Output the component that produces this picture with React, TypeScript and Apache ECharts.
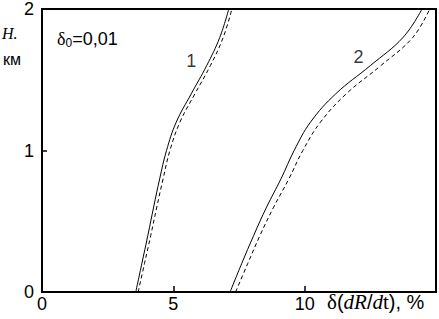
import React, { useEffect, useRef } from "react";
import * as echarts from "echarts";

const heights = [0, 0.2, 0.4, 0.6, 0.8, 1.0, 1.2, 1.4, 1.6, 1.8, 2.0];
const curve1Solid = [3.57, 3.8, 4.03, 4.25, 4.48, 4.74, 5.11, 5.68, 6.27, 6.77, 7.11];
const curve1Dashed = [3.66, 3.9, 4.14, 4.37, 4.61, 4.87, 5.25, 5.82, 6.41, 6.9, 7.23];
const curve2Solid = [7.16, 7.6, 8.06, 8.55, 9.1, 9.6, 10.22, 11.18, 12.5, 13.75, 14.47];
const curve2Dashed = [7.37, 7.83, 8.3, 8.82, 9.4, 9.93, 10.6, 11.58, 12.9, 14.12, 14.76];
const xTicks = [0, 5, 10];
const yTicks = [0, 1, 2];
const curveLabels = [
  { text: "1", x: 5.68, h: 1.63 },
  { text: "2", x: 12.05, h: 1.66 },
];

const FONT = "'Liberation Sans', Arial, sans-serif";
const SERIF = "'Liberation Serif', 'Times New Roman', serif";

export default function App() {
  const ref = useRef<HTMLDivElement>(null);
  useEffect(() => {
    if (!ref.current) return;
    const chart = echarts.init(ref.current, null, { renderer: "svg" });
    const pairs = (xs: number[]) => xs.map((x, i) => [x, heights[i]]);
    const mk = (xs: number[], dashed: boolean) => ({
      type: "line",
      data: pairs(xs),
      smooth: 0.4,
      showSymbol: false,
      symbol: "none",
      lineStyle: { color: "#000", width: 1, type: dashed ? [4, 3] : "solid" },
      silent: true,
    });
    chart.setOption({
      animation: false,
      backgroundColor: "#fff",
      grid: {
        left: 42,
        right: 1,
        top: 7,
        bottom: 27,
        show: true,
        borderColor: "#000",
        borderWidth: 2,
        backgroundColor: "transparent",
      },
      xAxis: {
        type: "value",
        min: 0,
        max: 15,
        interval: 5,
        axisLine: { show: true, lineStyle: { color: "#000", width: 2 } },
        axisTick: { show: true, inside: true, length: 6, lineStyle: { color: "#000", width: 1.5 } },
        splitLine: { show: false },
        axisLabel: {
          color: "#000",
          fontSize: 18,
          fontFamily: FONT,
          margin: 3,
          hideOverlap: false,
          formatter: (v: number) => (xTicks.includes(v) ? String(v) : ""),
        },
      },
      yAxis: {
        type: "value",
        min: 0,
        max: 2,
        interval: 1,
        axisLine: { show: true, lineStyle: { color: "#000", width: 2 } },
        axisTick: { show: true, inside: true, length: 5, lineStyle: { color: "#000", width: 1.5 } },
        splitLine: { show: false },
        axisLabel: {
          color: "#000",
          fontSize: 18,
          fontFamily: FONT,
          margin: 8,
          formatter: (v: number) => (yTicks.includes(v) ? String(v) : ""),
        },
      },
      series: [
        mk(curve1Solid, false),
        mk(curve1Dashed, true),
        mk(curve2Solid, false),
        mk(curve2Dashed, true),
        {
          type: "scatter",
          data: curveLabels.map((c) => [c.x, c.h]),
          symbolSize: 0,
          silent: true,
          label: {
            show: true,
            position: "inside",
            color: "#000",
            fontSize: 18,
            fontFamily: FONT,
            formatter: (p: any) => curveLabels[p.dataIndex].text,
          },
        },
      ],
      graphic: [
        {
          type: "text",
          left: 2,
          top: 25,
          style: {
            text: "H.",
            font: "italic 16px " + SERIF,
            fill: "#000",
          },
        },
        {
          type: "text",
          left: 3,
          top: 51,
          style: {
            text: "км",
            font: "16px " + FONT,
            fill: "#000",
          },
        },
        {
          type: "text",
          left: 57,
          top: 30,
          style: {
            text: "{d|δ}{s|0}{n|=0,01}",
            fill: "#000",
            rich: {
              d: { fontSize: 18, fontFamily: SERIF, fill: "#000" },
              s: { fontSize: 12, fontFamily: FONT, fill: "#000", padding: [8, 0, 0, 0] },
              n: { fontSize: 18, fontFamily: FONT, fill: "#000" },
            },
          },
        },
        {
          type: "text",
          left: 327,
          top: 291,
          style: {
            text: "{d|δ}{p|(}{i|dR}{p|/}{i|d}{r|t}{p|), %}",
            fill: "#000",
            rich: {
              d: { fontSize: 21, fontFamily: SERIF, fill: "#000" },
              r: { fontSize: 21, fontFamily: SERIF, fill: "#000" },
              p: { fontSize: 20, fontFamily: FONT, fill: "#000" },
              i: { fontSize: 21, fontFamily: SERIF, fontStyle: "italic", fill: "#000" },
            },
          },
        },
      ],
    });
    return () => chart.dispose();
  }, []);
  return (
    <div
      ref={ref}
      style={{ position: "fixed", left: 0, top: 0, width: 439, height: 319, background: "#fff" }}
    />
  );
}
